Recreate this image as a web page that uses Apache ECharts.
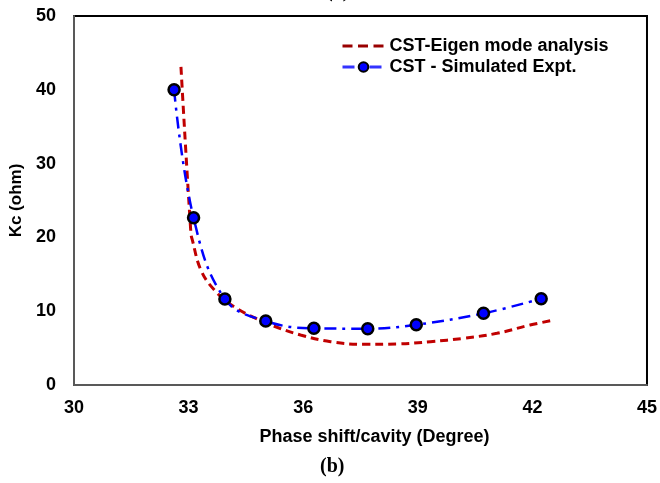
<!DOCTYPE html>
<html><head><meta charset="utf-8">
<script src="https://cdn.jsdelivr.net/npm/echarts@6/dist/echarts.min.js"></script>
<style>html,body{margin:0;padding:0;background:#fff}#c{width:660px;height:483px}</style>
</head><body><div id="c"></div>
<script>
// Eigen mode analysis curve (x: phase shift, y: Kc)
const eigenX = [32.80, 33.06, 33.10, 33.32, 33.67, 34.19, 35.06, 35.93, 36.72, 37.59, 38.46, 39.33, 40.20, 41.07, 41.94, 42.57];
const eigenY = [43.1, 20.6, 19.6, 15.6, 12.9, 10.6, 8.36, 6.78, 5.87, 5.51, 5.56, 5.87, 6.33, 7.0, 8.13, 8.8];
// Simulated experiment points
const simX = [32.62, 33.13, 33.95, 35.02, 36.28, 37.69, 38.96, 40.72, 42.23];
const simY = [40.0, 22.67, 11.65, 8.67, 7.68, 7.63, 8.17, 9.71, 11.7];
const xTicks = [30, 33, 36, 39, 42, 45];
const yTicks = [0, 10, 20, 30, 40, 50];
const names = ['CST-Eigen mode analysis', 'CST - Simulated Expt.'];

const chart = echarts.init(document.getElementById('c'));
const font = 'Arial, "Liberation Sans", sans-serif';
chart.setOption({
  animation: false,
  backgroundColor: '#fff',
  grid: { left: 73, top: 16, right: 13, bottom: 98, show: true, borderColor: '#000', borderWidth: 2, backgroundColor: 'transparent' },
  xAxis: {
    type: 'value', min: xTicks[0], max: xTicks[xTicks.length - 1], interval: 3,
    axisLine: { lineStyle: { color: '#595959', width: 2 } }, axisTick: { show: false }, splitLine: { show: false },
    axisLabel: { color: '#000', fontFamily: font, fontWeight: 'bold', fontSize: 18, margin: 14 },
    name: 'Phase shift/cavity (Degree)', nameLocation: 'middle', nameGap: 43,
    nameTextStyle: { color: '#000', fontFamily: font, fontWeight: 'bold', fontSize: 18, padding: [0, 0, 0, 28] }
  },
  yAxis: {
    type: 'value', min: yTicks[0], max: yTicks[yTicks.length - 1], interval: 10,
    axisLine: { show: true, lineStyle: { color: '#595959', width: 2 } }, axisTick: { show: false }, splitLine: { show: false },
    axisLabel: { color: '#000', fontFamily: font, fontWeight: 'bold', fontSize: 18, margin: 18 },
    name: 'Kc (ohm)', nameLocation: 'middle', nameGap: 49, nameRotate: 90,
    nameTextStyle: { color: '#000', fontFamily: font, fontWeight: 'bold', fontSize: 17 }
  },
  legend: {
    left: 341, top: 37, padding: 0, orient: 'vertical', itemGap: 3, itemWidth: 42, itemHeight: 12,
    textStyle: { color: '#000', fontFamily: font, fontWeight: 'bold', fontSize: 18 },
    data: [
      { name: names[0], itemStyle: { opacity: 0 }, lineStyle: { color: '#990000', width: 3, type: [10, 5.5] } },
      { name: names[1], lineStyle: { color: '#3333ff', width: 3 } }
    ]
  },
  graphic: [
    { type: 'text', left: 320, top: 457, style: { text: '(b)', font: 'bold 20px "Liberation Serif", "Times New Roman", serif', fill: '#000' } },
    { type: 'text', left: 326, top: -18, style: { text: '(a)', font: 'bold 20px "Liberation Serif", "Times New Roman", serif', fill: '#000' } }
  ],
  series: [
    {
      name: names[0], type: 'line', smooth: 0.4, showSymbol: false, symbol: 'none',
      data: eigenX.map((x, i) => [x, eigenY[i]]),
      lineStyle: { color: '#c00000', width: 3, type: [8, 5] },
      itemStyle: { color: '#990000' }
    },
    {
      name: names[1], type: 'line', smooth: 0.4, symbol: 'circle', symbolSize: 11,
      data: simX.map((x, i) => [x, simY[i]]),
      lineStyle: { color: '#0000ff', width: 2.5, type: [12, 6, 3, 6] },
      itemStyle: { color: '#0000ff', borderColor: '#000', borderWidth: 2.5 }
    }
  ]
});
</script></body></html>
